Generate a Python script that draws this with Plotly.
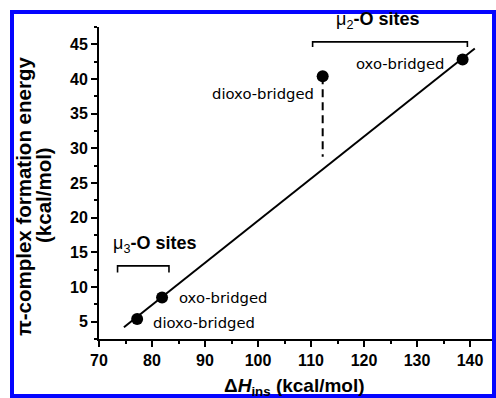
import plotly.graph_objects as go

# ---- data ----
pts_x = [77.2, 81.9, 112.2, 138.6]
pts_y = [5.4, 8.5, 40.4, 42.8]
pt_labels = ["dioxo-bridged", "oxo-bridged", "dioxo-bridged", "oxo-bridged"]

fit_x = [74.7, 140.9]
fit_y = [4.2, 44.4]

drop_x = [112.2, 112.2]
drop_y = [40.4, 28.8]

mu3_br_x = [73.5, 73.5, 83.2, 83.2]
mu3_br_y = [12.1, 13.05, 13.05, 12.1]
mu2_br_x = [110.3, 110.3, 139.5, 139.5]
mu2_br_y = [44.6, 45.35, 45.35, 44.6]

x_range = [70, 144.9]
y_range = [2.5, 47.5]

# ---- layout geometry (pixels) ----
W, H = 496, 398
ML, MR, MT, MB = 99, 0, 27, 59
PW = W - ML - MR
PH = H - MT - MB


def px_x(p):
    return (p - ML) / PW


def px_y(p):
    return (H - MB - p) / PH


fig = go.Figure()

fig.add_trace(go.Scatter(x=fit_x, y=fit_y, mode="lines",
                         line=dict(color="black", width=2), cliponaxis=False,
                         showlegend=False, hoverinfo="skip"))
fig.add_trace(go.Scatter(x=drop_x, y=drop_y, mode="lines",
                         line=dict(color="black", width=2, dash="8px,5px"),
                         showlegend=False, hoverinfo="skip"))
fig.add_trace(go.Scatter(x=mu3_br_x, y=mu3_br_y, mode="lines",
                         line=dict(color="black", width=1.6),
                         showlegend=False, hoverinfo="skip"))
fig.add_trace(go.Scatter(x=mu2_br_x, y=mu2_br_y, mode="lines",
                         line=dict(color="black", width=1.6), cliponaxis=False,
                         showlegend=False, hoverinfo="skip"))
fig.add_trace(go.Scatter(x=pts_x, y=pts_y, mode="markers",
                         marker=dict(color="black", size=12), cliponaxis=False,
                         showlegend=False, hoverinfo="skip"))

lab_font = dict(family="DejaVu Sans", size=14.8, color="black")
# label offsets relative to points
offsets = [
    dict(xanchor="left", xshift=14, yshift=-4),
    dict(xanchor="left", xshift=15, yshift=0),
    dict(xanchor="right", xshift=-7, yshift=-17),
    dict(xanchor="right", xshift=-17, yshift=-4),
]
for x, y, t, o in zip(pts_x, pts_y, pt_labels, offsets):
    fig.add_annotation(x=x, y=y, xref="x", yref="y", text=t, showarrow=False,
                       font=lab_font, yanchor="middle", **o)

bold_font = dict(family="Liberation Sans", size=18, color="black")
fig.add_annotation(x=80.4, y=16.2, xref="x", yref="y",
                   text="μ<sub>3</sub><b>-O sites</b>", showarrow=False,
                   font=bold_font, xanchor="center", yanchor="middle")
fig.add_annotation(x=122.5, y=px_y(20), xref="x", yref="paper",
                   text="μ<sub>2</sub><b>-O sites</b>", showarrow=False,
                   font=bold_font, xanchor="center", yanchor="middle")

title_font = dict(family="Liberation Sans", size=20.5, color="black")
fig.add_annotation(x=px_x(23), y=px_y(197), xref="paper", yref="paper",
                   text="<b>π-complex formation energy</b>", textangle=-90,
                   showarrow=False, font=title_font,
                   xanchor="center", yanchor="middle")
fig.add_annotation(x=px_x(43), y=px_y(195), xref="paper", yref="paper",
                   text="<b>(kcal/mol)</b>", textangle=-90,
                   showarrow=False, font=title_font,
                   xanchor="center", yanchor="middle")
fig.add_annotation(x=px_x(294), y=px_y(387), xref="paper", yref="paper",
                   text="<b>Δ<i>H</i><sub>ins</sub> (kcal/mol)</b>",
                   showarrow=False,
                   font=dict(family="Liberation Sans", size=19, color="black"),
                   xanchor="center", yanchor="middle")

tick_font = dict(family="Liberation Sans", size=16, color="black", weight="bold")

fig.update_xaxes(range=x_range, tick0=70, dtick=10, ticks="outside", ticklen=6,
                 tickwidth=2, tickcolor="black", showline=True, linewidth=2,
                 linecolor="black", showgrid=False, zeroline=False,
                 tickfont=tick_font,
                 minor=dict(tick0=70, dtick=5, ticks="outside", ticklen=3,
                            tickwidth=2, tickcolor="black"))
fig.update_yaxes(range=y_range, tick0=0, dtick=5, ticks="outside", ticklen=6,
                 tickwidth=2, tickcolor="black", showline=True, linewidth=2,
                 linecolor="black", showgrid=False, zeroline=False,
                 tickfont=tick_font,
                 minor=dict(tick0=0, dtick=2.5, ticks="outside", ticklen=3,
                            tickwidth=2, tickcolor="black"))

# blue frame around the figure
fig.add_shape(type="rect", xref="paper", yref="paper",
              x0=px_x(12), x1=px_x(494), y0=px_y(396), y1=px_y(12),
              line=dict(color="#0505ff", width=4), fillcolor="rgba(0,0,0,0)",
              layer="above")

fig.update_layout(width=W, height=H,
                  margin=dict(l=ML, r=MR, t=MT, b=MB, pad=0),
                  paper_bgcolor="white", plot_bgcolor="white",
                  showlegend=False)

fig.write_html("out.html",
               config={"displayModeBar": False},
               post_script="document.body.style.margin='0';"
                           "document.body.style.padding='0';"
                           "document.documentElement.style.overflow='hidden';")
